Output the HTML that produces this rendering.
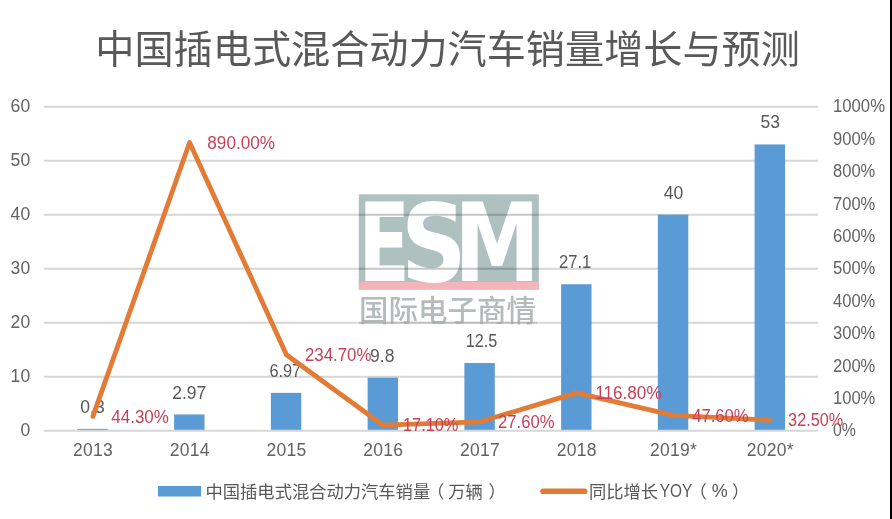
<!DOCTYPE html>
<html lang="zh-CN">
<head>
<meta charset="utf-8">
<title>中国插电式混合动力汽车销量增长与预测</title>
<style>
html,body{margin:0;padding:0;background:#fff;}
body{width:892px;height:519px;overflow:hidden;position:relative;}
svg{display:block;position:absolute;left:0;top:0;}
text{font-family:"Liberation Sans","Noto Sans CJK SC",sans-serif;}
.t{font-size:39.15px;font-weight:400;fill:#595959;}
.ax{font-size:17.5px;fill:#626262;}
.ay{font-size:17.5px;fill:#626262;letter-spacing:0.3px;}
.dl{font-size:17.5px;fill:#585858;}
.pl{font-size:17.5px;fill:#c7405a;}
.lg{font-size:17.3px;fill:#595959;}
.wm{font-family:"DejaVu Sans","Liberation Sans",sans-serif;font-weight:700;fill:#fff;}
.wc{font-size:29.5px;font-weight:500;fill:#b4bbbb;}
</style>
</head>
<body>
<svg width="892" height="519" viewBox="0 0 892 519">
<rect x="0" y="0" width="892" height="519" fill="#fff"/>

<g stroke="#d6d6d6" stroke-width="2">
<line x1="44.0" y1="376.72" x2="818.0" y2="376.72"/>
<line x1="44.0" y1="322.75" x2="818.0" y2="322.75"/>
<line x1="44.0" y1="268.77" x2="818.0" y2="268.77"/>
<line x1="44.0" y1="214.80" x2="818.0" y2="214.80"/>
<line x1="44.0" y1="160.82" x2="818.0" y2="160.82"/>
<line x1="44.0" y1="106.85" x2="818.0" y2="106.85"/>
</g>
<g id="wm">
<rect x="358.8" y="194.3" width="180" height="95.2" fill="#afc0c1"/>
<rect x="358.8" y="282" width="180" height="7.6" fill="#f1b5ba"/>
<text class="wm" x="0" y="0" font-size="109" transform="translate(358.6,281) scale(0.69,1)">E</text>
<text class="wm" x="0" y="0" font-size="109" transform="translate(401,281) scale(0.836,1)">S</text>
<text class="wm" x="0" y="0" font-size="109" transform="translate(454.3,281) scale(0.789,1)">M</text>
<text class="wc" x="359" y="321">国际电子商情</text>
</g>
<g stroke="#404848" stroke-width="2" opacity="0.3">
<line x1="358.8" y1="268.77" x2="538.8" y2="268.77"/>
<line x1="358.8" y1="214.80" x2="538.8" y2="214.80"/>
</g>
<line x1="359" y1="322.75" x2="537" y2="322.75" stroke="#909090" stroke-width="2" opacity="0.35"/>
<g fill="#5b9bd5">
<rect x="77.38" y="428.88" width="30.4" height="1.82"/>
<rect x="174.12" y="414.47" width="30.4" height="16.23"/>
<rect x="270.88" y="392.88" width="30.4" height="37.82"/>
<rect x="367.62" y="377.60" width="30.4" height="53.10"/>
<rect x="464.38" y="363.03" width="30.4" height="67.67"/>
<rect x="561.12" y="284.23" width="30.4" height="146.47"/>
<rect x="657.88" y="214.60" width="30.4" height="216.10"/>
<rect x="754.62" y="144.43" width="30.4" height="286.27"/>
</g>
<line x1="44.0" y1="430.80" x2="818.0" y2="430.80" stroke="#d6d6d6" stroke-width="2"/>
<text class="dl" x="92.5" y="412.9" text-anchor="middle">0.3</text>
<text class="dl" x="189.3" y="398.5" text-anchor="middle">2.97</text>
<text class="dl" x="285.3" y="376.9" text-anchor="middle" textLength="31.8" lengthAdjust="spacingAndGlyphs">6.97</text>
<text class="dl" x="382.2" y="361.6" text-anchor="middle">9.8</text>
<text class="dl" x="481.5" y="347.0" text-anchor="middle" textLength="31.6" lengthAdjust="spacingAndGlyphs">12.5</text>
<text class="dl" x="575.2" y="268.2" text-anchor="middle" textLength="32.3" lengthAdjust="spacingAndGlyphs">27.1</text>
<text class="dl" x="673.5" y="198.6" text-anchor="middle">40</text>
<text class="dl" x="770.2" y="128.4" text-anchor="middle">53</text>
<polyline points="92.9,416.4 189.6,142.5 286.4,354.7 383.1,425.2 479.9,421.8 576.6,392.9 673.4,415.3 770.1,420.2" fill="none" stroke="#e27b36" stroke-width="4.8" stroke-linejoin="round" stroke-linecap="round"/>
<text class="ay" x="30.5" y="436.0" text-anchor="end">0</text>
<text class="ay" x="30.5" y="382.0" text-anchor="end">10</text>
<text class="ay" x="30.5" y="328.1" text-anchor="end">20</text>
<text class="ay" x="30.5" y="274.1" text-anchor="end">30</text>
<text class="ay" x="30.5" y="220.1" text-anchor="end">40</text>
<text class="ay" x="30.5" y="166.1" text-anchor="end">50</text>
<text class="ay" x="30.5" y="112.1" text-anchor="end">60</text>
<text class="ax" x="833" y="436.3" textLength="22.9" lengthAdjust="spacingAndGlyphs">0%</text>
<text class="ax" x="833" y="403.9" textLength="42.3" lengthAdjust="spacingAndGlyphs">100%</text>
<text class="ax" x="833" y="371.5" textLength="42.3" lengthAdjust="spacingAndGlyphs">200%</text>
<text class="ax" x="833" y="339.1" textLength="42.3" lengthAdjust="spacingAndGlyphs">300%</text>
<text class="ax" x="833" y="306.8" textLength="42.3" lengthAdjust="spacingAndGlyphs">400%</text>
<text class="ax" x="833" y="274.4" textLength="42.3" lengthAdjust="spacingAndGlyphs">500%</text>
<text class="ax" x="833" y="242.0" textLength="42.3" lengthAdjust="spacingAndGlyphs">600%</text>
<text class="ax" x="833" y="209.6" textLength="42.3" lengthAdjust="spacingAndGlyphs">700%</text>
<text class="ax" x="833" y="177.2" textLength="42.3" lengthAdjust="spacingAndGlyphs">800%</text>
<text class="ax" x="833" y="144.8" textLength="42.3" lengthAdjust="spacingAndGlyphs">900%</text>
<text class="ax" x="833" y="112.4" textLength="52.0" lengthAdjust="spacingAndGlyphs">1000%</text>
<text class="ay" x="93.1" y="455.6" text-anchor="middle">2013</text>
<text class="ay" x="189.8" y="455.6" text-anchor="middle">2014</text>
<text class="ay" x="286.6" y="455.6" text-anchor="middle">2015</text>
<text class="ay" x="383.3" y="455.6" text-anchor="middle">2016</text>
<text class="ay" x="480.1" y="455.6" text-anchor="middle">2017</text>
<text class="ay" x="576.8" y="455.6" text-anchor="middle">2018</text>
<text class="ay" x="673.6" y="455.6" text-anchor="middle">2019*</text>
<text class="ay" x="770.3" y="455.6" text-anchor="middle">2020*</text>
<text class="pl" x="111.3" y="422.6" textLength="57.6" lengthAdjust="spacingAndGlyphs">44.30%</text>
<text class="pl" x="207.3" y="148.7" textLength="67.8" lengthAdjust="spacingAndGlyphs">890.00%</text>
<text class="pl" x="305.0" y="360.9" textLength="66.4" lengthAdjust="spacingAndGlyphs">234.70%</text>
<text class="pl" x="403.0" y="431.4" textLength="55.4" lengthAdjust="spacingAndGlyphs">17.10%</text>
<text class="pl" x="498.1" y="428.0" textLength="56.4" lengthAdjust="spacingAndGlyphs">27.60%</text>
<text class="pl" x="595.2" y="399.1" textLength="66.5" lengthAdjust="spacingAndGlyphs">116.80%</text>
<text class="pl" x="692.2" y="421.5" textLength="56.4" lengthAdjust="spacingAndGlyphs">47.60%</text>
<text class="pl" x="788.1" y="426.4" textLength="55.1" lengthAdjust="spacingAndGlyphs">32.50%</text>
<text class="t" x="447.6" y="62.5" text-anchor="middle">中国插电式混合动力汽车销量增长与预测</text>
<rect x="158" y="486" width="43" height="10.5" fill="#5b9bd5"/>
<text class="lg" x="205.5" y="497.5">中国插电式混合动力汽车销量</text>
<text class="lg" x="427" y="497.5">（</text>
<text class="lg" x="448.3" y="497.5">万辆</text>
<text class="lg" x="488.5" y="497.5">）</text>
<line x1="543" y1="491.2" x2="584.6" y2="491.2" stroke="#e27b36" stroke-width="5.6" stroke-linecap="round"/>
<text class="lg" x="589" y="497.5">同比增长</text>
<text class="lg" x="659.8" y="497" font-size="18.2" style="font-size:18.2px" textLength="32.5" lengthAdjust="spacingAndGlyphs">YOY</text>
<text class="lg" x="689.5" y="497.5">（</text>
<text class="lg" x="711.8" y="497" style="font-size:18.2px" textLength="16" lengthAdjust="spacingAndGlyphs">%</text>
<text class="lg" x="732" y="497.5">）</text>
<rect x="890" y="0" width="2" height="519" fill="#000"/>
</svg>
</body>
</html>
